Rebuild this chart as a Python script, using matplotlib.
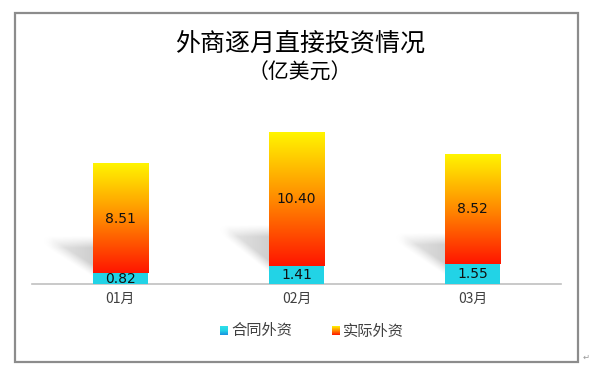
import numpy as np
import matplotlib
matplotlib.use("Agg")
import matplotlib.pyplot as plt
from matplotlib.colors import LinearSegmentedColormap
from matplotlib.patches import Rectangle

plt.rcParams['font.family'] = ['Noto Sans CJK SC', 'DejaVu Sans']

# ---- data ----
categories = ["01月", "02月", "03月"]
series_names = ["合同外资", "实际外资"]
contract = [0.82, 1.41, 1.55]
actual = [8.51, 10.40, 8.52]
title = "外商逐月直接投资情况"
subtitle = "（亿美元）"

W, H = 600, 371
fig = plt.figure(figsize=(W / 100, H / 100), dpi=100)

# main axes (pixel-based placement)
ax_left, ax_right = 32, 561
ax_bottom_px, ax_top_px = 284, 104
ax = fig.add_axes([ax_left / W, (H - ax_bottom_px) / H,
                   (ax_right - ax_left) / W, (ax_bottom_px - ax_top_px) / H])
ymax = 14.0
ax.set_xlim(-0.5, 2.5)
ax.set_ylim(0, ymax)
for s in ["top", "right", "left"]:
    ax.spines[s].set_visible(False)
ax.spines["bottom"].set_color("#c0c0c0")
ax.spines["bottom"].set_linewidth(1.2)
ax.set_yticks([])
x = np.arange(len(categories))
ax.set_xticks(x)
ax.set_xticklabels(categories, fontsize=10, color="#404040")
ax.tick_params(axis="x", length=0, pad=6)

bw = 0.313
px_per_x = (ax_right - ax_left) / 3.0
px_per_y = (ax_bottom_px - ax_top_px) / ymax

# ---- shadows ----
def shadow(xc, total):
    bl = xc - bw / 2
    top = 0.35 * total
    low = 0.11 * total
    sw = 0.26
    xs = np.linspace(bl - sw - 0.12, bl, 140)
    ys = np.linspace(0, top + 1.6, 180)
    X, Y = np.meshgrid(xs, ys)
    u = (bl - X) / sw
    lower = low + (top - low) * u
    blur = 12.0
    def s(d):
        return np.clip(0.5 + d / blur, 0, 1) ** 1.2
    d1 = (top - Y) * px_per_y
    d2 = (Y - lower) * px_per_y
    d3 = (1 - u) * sw * px_per_x
    a = s(d1) * s(d2) * s(d3) * (0.42 - 0.22 * np.clip(u, 0, 1))
    img = np.zeros(X.shape + (4,))
    img[..., 0:3] = 0.55
    img[..., 3] = a
    ax.imshow(img, extent=[xs[0], xs[-1], ys[0], ys[-1]], origin="lower",
              aspect="auto", zorder=1, interpolation="bilinear")

for xi, c, a in zip(x, contract, actual):
    shadow(xi, c + a)

# ---- bars ----
warm = LinearSegmentedColormap.from_list("warm", ["#ff1500", "#ff8a00", "#fff500"])
grad = np.linspace(0, 1, 256).reshape(-1, 1)
for xi, c, a in zip(x, contract, actual):
    ax.add_patch(Rectangle((xi - bw / 2, 0), bw, c, facecolor="#22d3e6",
                           edgecolor="none", zorder=3))
    ax.imshow(grad, cmap=warm, extent=[xi - bw / 2, xi + bw / 2, c, c + a],
              origin="lower", aspect="auto", zorder=3)
    ax.text(xi, c / 2, f"{c:.2f}", ha="center", va="center", fontsize=10,
            color="#111111", zorder=5, family="DejaVu Sans")
    ax.text(xi, c + a / 2, f"{a:.2f}", ha="center", va="center", fontsize=10,
            color="#111111", zorder=5, family="DejaVu Sans")
ax.set_xlim(-0.5, 2.5)
ax.set_ylim(0, ymax)

# ---- overlay in pixel coordinates ----
ov = fig.add_axes([0, 0, 1, 1], zorder=-1)
ov.set_xlim(0, W)
ov.set_ylim(H, 0)
ov.axis("off")
ov.add_patch(Rectangle((14.5, 12.5), 563, 349, facecolor="white",
                       edgecolor="#8c8c8c", linewidth=1.6))
ov2 = fig.add_axes([0, 0, 1, 1], zorder=10)
ov2.set_xlim(0, W)
ov2.set_ylim(H, 0)
ov2.axis("off")
ov2.patch.set_alpha(0)
ov2.text(300, 44, title, ha="center", va="center", fontsize=18, color="black")
ov2.text(300, 73, subtitle, ha="center", va="center", fontsize=15, color="black")
ov2.text(583, 357, "↵", ha="left", va="center", fontsize=6, color="#999999",
         family="DejaVu Sans")

# legend
cyan_cm = LinearSegmentedColormap.from_list("cy", ["#1a8fe0", "#22d3e6", "#30e0ea"])
leg_cmaps = [cyan_cm, warm]
leg_x = [220, 332]
for lx, name, cm in zip(leg_x, series_names, leg_cmaps):
    ov2.imshow(grad, cmap=cm, extent=[lx, lx + 8, 335, 326], origin="lower",
               aspect="auto")
    ov2.text(lx + 11, 331, name, ha="left", va="center", fontsize=11, color="#404040")
ov2.set_xlim(0, W)
ov2.set_ylim(H, 0)

fig.savefig("out.png", dpi=100)
